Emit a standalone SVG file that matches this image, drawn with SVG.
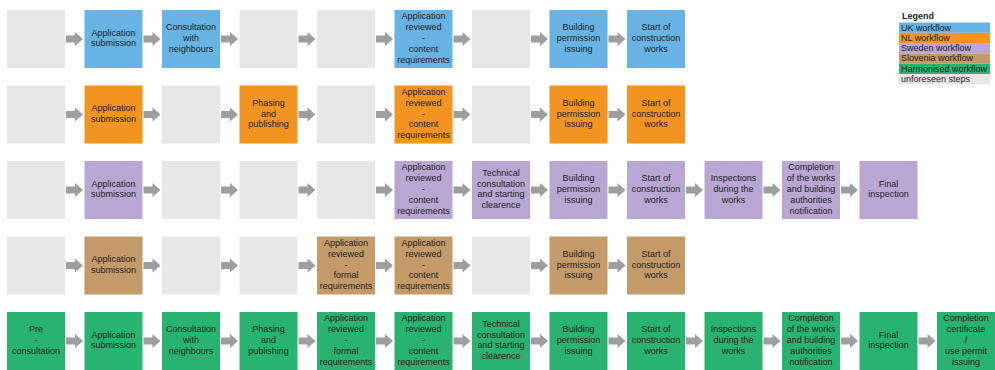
<svg xmlns="http://www.w3.org/2000/svg" xmlns:xlink="http://www.w3.org/1999/xlink" width="995" height="370" viewBox="0 0 995 370">
<style>
.b{stroke:none}
.g{fill:#e7e7e7}
.uk{fill:#67b3e4}
.nl{fill:#f39320}
.se{fill:#b9a7d3}
.si{fill:#c49a69}
.hm{fill:#28b470}
.t{font-family:"Liberation Sans",Arial,sans-serif;font-size:9px;fill:#222;text-anchor:middle}
.lt{font-family:"Liberation Sans",Arial,sans-serif;font-size:9px;fill:#222}
.arr{fill:#9e9e9e}
</style>
<defs>
<path id="a" d="M0,-3.5 H9 V-7 L17,0 L9,7 V3.5 H0 Z"/>
</defs>
<rect width="995" height="370" fill="#ffffff"/>

<g id="connectors" class="arr">
<!-- row 1 -->
<use href="#a" x="66" y="39"/><use href="#a" x="143.5" y="39"/><use href="#a" x="221" y="39"/><use href="#a" x="298.5" y="39"/><use href="#a" x="376" y="39"/><use href="#a" x="453.5" y="39"/><use href="#a" x="531" y="39"/><use href="#a" x="608.5" y="39"/>
<!-- row 2 -->
<use href="#a" x="66" y="114.5"/><use href="#a" x="143.5" y="114.5"/><use href="#a" x="221" y="114.5"/><use href="#a" x="298.5" y="114.5"/><use href="#a" x="376" y="114.5"/><use href="#a" x="453.5" y="114.5"/><use href="#a" x="531" y="114.5"/><use href="#a" x="608.5" y="114.5"/>
<!-- row 3 -->
<use href="#a" x="66" y="190"/><use href="#a" x="143.5" y="190"/><use href="#a" x="221" y="190"/><use href="#a" x="298.5" y="190"/><use href="#a" x="376" y="190"/><use href="#a" x="453.5" y="190"/><use href="#a" x="531" y="190"/><use href="#a" x="608.5" y="190"/><use href="#a" x="686" y="190"/><use href="#a" x="763.5" y="190"/><use href="#a" x="841" y="190"/>
<!-- row 4 -->
<use href="#a" x="66" y="265.5"/><use href="#a" x="143.5" y="265.5"/><use href="#a" x="221" y="265.5"/><use href="#a" x="298.5" y="265.5"/><use href="#a" x="376" y="265.5"/><use href="#a" x="453.5" y="265.5"/><use href="#a" x="531" y="265.5"/><use href="#a" x="608.5" y="265.5"/>
<!-- row 5 -->
<use href="#a" x="66" y="341"/><use href="#a" x="143.5" y="341"/><use href="#a" x="221" y="341"/><use href="#a" x="298.5" y="341"/><use href="#a" x="376" y="341"/><use href="#a" x="453.5" y="341"/><use href="#a" x="531" y="341"/><use href="#a" x="608.5" y="341"/><use href="#a" x="686" y="341"/><use href="#a" x="763.5" y="341"/><use href="#a" x="841" y="341"/><use href="#a" x="918.5" y="341"/>
</g>

<!-- Row 1: UK -->
<g id="uk0"><rect class="g" x="7" y="10" width="58" height="58"/></g>
<g id="uk1"><rect class="uk" x="84.5" y="10" width="58" height="58"/><text class="t"><tspan x="113.5" y="35.6">Application</tspan><tspan x="113.5" y="46.4">submission</tspan></text></g>
<g id="uk2"><rect class="uk" x="162" y="10" width="58" height="58"/><text class="t"><tspan x="191" y="30.2">Consultation</tspan><tspan x="191" y="41">with</tspan><tspan x="191" y="51.8">neighbours</tspan></text></g>
<g id="uk3"><rect class="g" x="239.5" y="10" width="58" height="58"/></g>
<g id="uk4"><rect class="g" x="317" y="10" width="58" height="58"/></g>
<g id="uk5"><rect class="uk" x="394.5" y="10" width="58" height="58"/><text class="t"><tspan x="423.5" y="19.4">Application</tspan><tspan x="423.5" y="30.2">reviewed</tspan><tspan x="423.5" y="41">-</tspan><tspan x="423.5" y="51.8">content</tspan><tspan x="423.5" y="62.6">requirements</tspan></text></g>
<g id="uk6"><rect class="g" x="472" y="10" width="58" height="58"/></g>
<g id="uk7"><rect class="uk" x="549.5" y="10" width="58" height="58"/><text class="t"><tspan x="578.5" y="30.2">Building</tspan><tspan x="578.5" y="41">permission</tspan><tspan x="578.5" y="51.8">issuing</tspan></text></g>
<g id="uk8"><rect class="uk" x="627" y="10" width="58" height="58"/><text class="t"><tspan x="656" y="30.2">Start of</tspan><tspan x="656" y="41">construction</tspan><tspan x="656" y="51.8">works</tspan></text></g>

<!-- Row 2: NL -->
<g id="nl0"><rect class="g" x="7" y="85.5" width="58" height="58"/></g>
<g id="nl1"><rect class="nl" x="84.5" y="85.5" width="58" height="58"/><text class="t"><tspan x="113.5" y="111.1">Application</tspan><tspan x="113.5" y="121.9">submission</tspan></text></g>
<g id="nl2"><rect class="g" x="162" y="85.5" width="58" height="58"/></g>
<g id="nl3"><rect class="nl" x="239.5" y="85.5" width="58" height="58"/><text class="t"><tspan x="268.5" y="105.7">Phasing</tspan><tspan x="268.5" y="116.5">and</tspan><tspan x="268.5" y="127.3">publishing</tspan></text></g>
<g id="nl4"><rect class="g" x="317" y="85.5" width="58" height="58"/></g>
<g id="nl5"><rect class="nl" x="394.5" y="85.5" width="58" height="58"/><text class="t"><tspan x="423.5" y="94.9">Application</tspan><tspan x="423.5" y="105.7">reviewed</tspan><tspan x="423.5" y="116.5">-</tspan><tspan x="423.5" y="127.3">content</tspan><tspan x="423.5" y="138.1">requirements</tspan></text></g>
<g id="nl6"><rect class="g" x="472" y="85.5" width="58" height="58"/></g>
<g id="nl7"><rect class="nl" x="549.5" y="85.5" width="58" height="58"/><text class="t"><tspan x="578.5" y="105.7">Building</tspan><tspan x="578.5" y="116.5">permission</tspan><tspan x="578.5" y="127.3">issuing</tspan></text></g>
<g id="nl8"><rect class="nl" x="627" y="85.5" width="58" height="58"/><text class="t"><tspan x="656" y="105.7">Start of</tspan><tspan x="656" y="116.5">construction</tspan><tspan x="656" y="127.3">works</tspan></text></g>

<!-- Row 3: Sweden -->
<g id="se0"><rect class="g" x="7" y="161" width="58" height="58"/></g>
<g id="se1"><rect class="se" x="84.5" y="161" width="58" height="58"/><text class="t"><tspan x="113.5" y="186.6">Application</tspan><tspan x="113.5" y="197.4">submission</tspan></text></g>
<g id="se2"><rect class="g" x="162" y="161" width="58" height="58"/></g>
<g id="se3"><rect class="g" x="239.5" y="161" width="58" height="58"/></g>
<g id="se4"><rect class="g" x="317" y="161" width="58" height="58"/></g>
<g id="se5"><rect class="se" x="394.5" y="161" width="58" height="58"/><text class="t"><tspan x="423.5" y="170.4">Application</tspan><tspan x="423.5" y="181.2">reviewed</tspan><tspan x="423.5" y="192">-</tspan><tspan x="423.5" y="202.8">content</tspan><tspan x="423.5" y="213.6">requirements</tspan></text></g>
<g id="se6"><rect class="se" x="472" y="161" width="58" height="58"/><text class="t"><tspan x="501" y="175.8">Technical</tspan><tspan x="501" y="186.6">consultation</tspan><tspan x="501" y="197.4">and starting</tspan><tspan x="501" y="208.2">clearence</tspan></text></g>
<g id="se7"><rect class="se" x="549.5" y="161" width="58" height="58"/><text class="t"><tspan x="578.5" y="181.2">Building</tspan><tspan x="578.5" y="192">permission</tspan><tspan x="578.5" y="202.8">issuing</tspan></text></g>
<g id="se8"><rect class="se" x="627" y="161" width="58" height="58"/><text class="t"><tspan x="656" y="181.2">Start of</tspan><tspan x="656" y="192">construction</tspan><tspan x="656" y="202.8">works</tspan></text></g>
<g id="se9"><rect class="se" x="704.5" y="161" width="58" height="58"/><text class="t"><tspan x="733.5" y="181.2">Inspections</tspan><tspan x="733.5" y="192">during the</tspan><tspan x="733.5" y="202.8">works</tspan></text></g>
<g id="se10"><rect class="se" x="782" y="161" width="58" height="58"/><text class="t"><tspan x="811" y="170.4">Completion</tspan><tspan x="811" y="181.2">of the works</tspan><tspan x="811" y="192">and building</tspan><tspan x="811" y="202.8">authorities</tspan><tspan x="811" y="213.6">notification</tspan></text></g>
<g id="se11"><rect class="se" x="859.5" y="161" width="58" height="58"/><text class="t"><tspan x="888.5" y="186.6">Final</tspan><tspan x="888.5" y="197.4">inspection</tspan></text></g>

<!-- Row 4: Slovenia -->
<g id="si0"><rect class="g" x="7" y="236.5" width="58" height="58"/></g>
<g id="si1"><rect class="si" x="84.5" y="236.5" width="58" height="58"/><text class="t"><tspan x="113.5" y="262.1">Application</tspan><tspan x="113.5" y="272.9">submission</tspan></text></g>
<g id="si2"><rect class="g" x="162" y="236.5" width="58" height="58"/></g>
<g id="si3"><rect class="g" x="239.5" y="236.5" width="58" height="58"/></g>
<g id="si4"><rect class="si" x="317" y="236.5" width="58" height="58"/><text class="t"><tspan x="346" y="245.9">Application</tspan><tspan x="346" y="256.7">reviewed</tspan><tspan x="346" y="267.5">-</tspan><tspan x="346" y="278.3">formal</tspan><tspan x="346" y="289.1">requirements</tspan></text></g>
<g id="si5"><rect class="si" x="394.5" y="236.5" width="58" height="58"/><text class="t"><tspan x="423.5" y="245.9">Application</tspan><tspan x="423.5" y="256.7">reviewed</tspan><tspan x="423.5" y="267.5">-</tspan><tspan x="423.5" y="278.3">content</tspan><tspan x="423.5" y="289.1">requirements</tspan></text></g>
<g id="si6"><rect class="g" x="472" y="236.5" width="58" height="58"/></g>
<g id="si7"><rect class="si" x="549.5" y="236.5" width="58" height="58"/><text class="t"><tspan x="578.5" y="256.7">Building</tspan><tspan x="578.5" y="267.5">permission</tspan><tspan x="578.5" y="278.3">issuing</tspan></text></g>
<g id="si8"><rect class="si" x="627" y="236.5" width="58" height="58"/><text class="t"><tspan x="656" y="256.7">Start of</tspan><tspan x="656" y="267.5">construction</tspan><tspan x="656" y="278.3">works</tspan></text></g>

<!-- Row 5: Harmonised -->
<g id="hm0"><rect class="hm" x="7" y="312" width="58" height="58"/><text class="t"><tspan x="36" y="332.2">Pre</tspan><tspan x="36" y="343">-</tspan><tspan x="36" y="353.8">consultation</tspan></text></g>
<g id="hm1"><rect class="hm" x="84.5" y="312" width="58" height="58"/><text class="t"><tspan x="113.5" y="337.6">Application</tspan><tspan x="113.5" y="348.4">submission</tspan></text></g>
<g id="hm2"><rect class="hm" x="162" y="312" width="58" height="58"/><text class="t"><tspan x="191" y="332.2">Consultation</tspan><tspan x="191" y="343">with</tspan><tspan x="191" y="353.8">neighbours</tspan></text></g>
<g id="hm3"><rect class="hm" x="239.5" y="312" width="58" height="58"/><text class="t"><tspan x="268.5" y="332.2">Phasing</tspan><tspan x="268.5" y="343">and</tspan><tspan x="268.5" y="353.8">publishing</tspan></text></g>
<g id="hm4"><rect class="hm" x="317" y="312" width="58" height="58"/><text class="t"><tspan x="346" y="321.4">Application</tspan><tspan x="346" y="332.2">reviewed</tspan><tspan x="346" y="343">-</tspan><tspan x="346" y="353.8">formal</tspan><tspan x="346" y="364.6">requirements</tspan></text></g>
<g id="hm5"><rect class="hm" x="394.5" y="312" width="58" height="58"/><text class="t"><tspan x="423.5" y="321.4">Application</tspan><tspan x="423.5" y="332.2">reviewed</tspan><tspan x="423.5" y="343">-</tspan><tspan x="423.5" y="353.8">content</tspan><tspan x="423.5" y="364.6">requirements</tspan></text></g>
<g id="hm6"><rect class="hm" x="472" y="312" width="58" height="58"/><text class="t"><tspan x="501" y="326.8">Technical</tspan><tspan x="501" y="337.6">consultation</tspan><tspan x="501" y="348.4">and starting</tspan><tspan x="501" y="359.2">clearence</tspan></text></g>
<g id="hm7"><rect class="hm" x="549.5" y="312" width="58" height="58"/><text class="t"><tspan x="578.5" y="332.2">Building</tspan><tspan x="578.5" y="343">permission</tspan><tspan x="578.5" y="353.8">issuing</tspan></text></g>
<g id="hm8"><rect class="hm" x="627" y="312" width="58" height="58"/><text class="t"><tspan x="656" y="332.2">Start of</tspan><tspan x="656" y="343">construction</tspan><tspan x="656" y="353.8">works</tspan></text></g>
<g id="hm9"><rect class="hm" x="704.5" y="312" width="58" height="58"/><text class="t"><tspan x="733.5" y="332.2">Inspections</tspan><tspan x="733.5" y="343">during the</tspan><tspan x="733.5" y="353.8">works</tspan></text></g>
<g id="hm10"><rect class="hm" x="782" y="312" width="58" height="58"/><text class="t"><tspan x="811" y="321.4">Completion</tspan><tspan x="811" y="332.2">of the works</tspan><tspan x="811" y="343">and building</tspan><tspan x="811" y="353.8">authorities</tspan><tspan x="811" y="364.6">notification</tspan></text></g>
<g id="hm11"><rect class="hm" x="859.5" y="312" width="58" height="58"/><text class="t"><tspan x="888.5" y="337.6">Final</tspan><tspan x="888.5" y="348.4">inspection</tspan></text></g>
<g id="hm12"><rect class="hm" x="937" y="312" width="58" height="58"/><text class="t"><tspan x="966" y="321.4">Completion</tspan><tspan x="966" y="332.2">certificate</tspan><tspan x="966" y="343">/</tspan><tspan x="966" y="353.8">use permit</tspan><tspan x="966" y="364.6">issuing</tspan></text></g>

<!-- Legend -->
<g id="legend">
<text class="lt" x="902" y="19" font-weight="bold">Legend</text>
<rect class="uk" x="899" y="22.5" width="91" height="10.3"/><text class="lt" x="901" y="30.5">UK workflow</text>
<rect class="nl" x="899" y="32.8" width="91" height="10.3"/><text class="lt" x="901" y="40.8">NL workflow</text>
<rect class="se" x="899" y="43.1" width="91" height="10.3"/><text class="lt" x="901" y="51.1">Sweden workflow</text>
<rect class="si" x="899" y="53.4" width="91" height="10.3"/><text class="lt" x="901" y="61.4">Slovenia workflow</text>
<rect class="hm" x="899" y="63.7" width="91" height="10.3"/><text class="lt" x="901" y="71.7">Harmonised workflow</text>
<rect class="g" x="899" y="74" width="91" height="10.3"/><text class="lt" x="901" y="82">unforeseen steps</text>
</g>
</svg>
